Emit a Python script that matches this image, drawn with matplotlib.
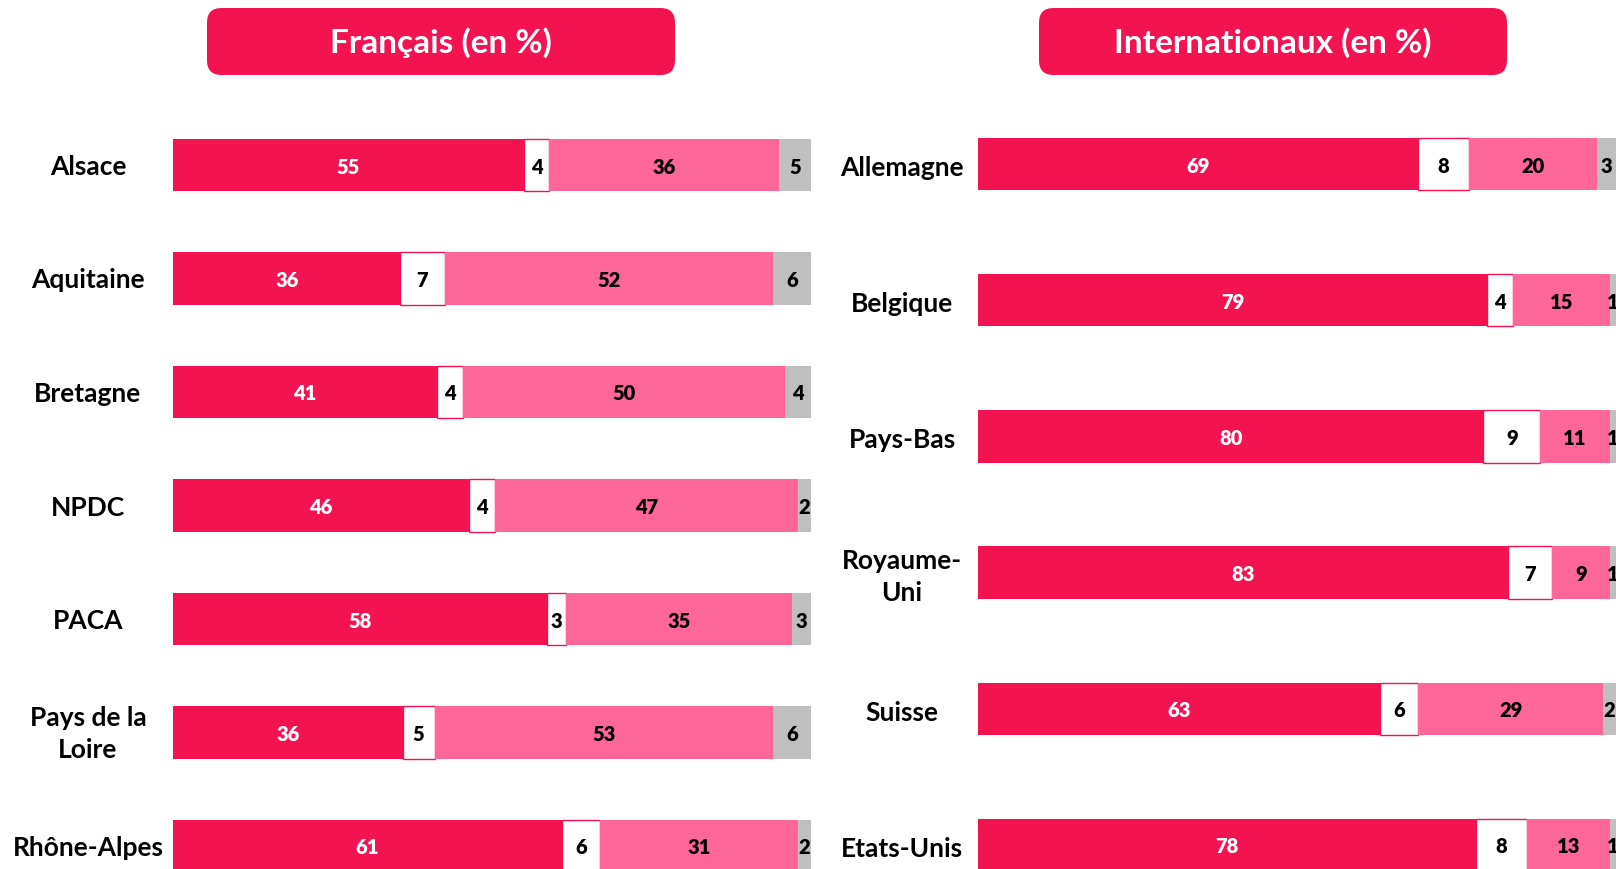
import matplotlib
matplotlib.use("Agg")
import matplotlib.pyplot as plt
from matplotlib.patches import FancyBboxPatch
from matplotlib.transforms import blended_transform_factory
import numpy as np

plt.rcParams['font.family'] = ['Lato', 'DejaVu Sans']

# ---- data ----
fr_regions = ["Alsace", "Aquitaine", "Bretagne", "NPDC", "PACA", "Pays de la\nLoire", "Rhône-Alpes"]
fr_s1 = [55, 36, 41, 46, 58, 36, 61]
fr_s2 = [4, 7, 4, 4, 3, 5, 6]
fr_s3 = [36, 52, 50, 47, 35, 53, 31]
fr_s4 = [5, 6, 4, 2, 3, 6, 2]

int_countries = ["Allemagne", "Belgique", "Pays-Bas", "Royaume-\nUni", "Suisse", "Etats-Unis"]
int_s1 = [69, 79, 80, 83, 63, 78]
int_s2 = [8, 4, 9, 7, 6, 8]
int_s3 = [20, 15, 11, 9, 29, 13]
int_s4 = [3, 1, 1, 1, 2, 1]

titles = ["Français (en %)", "Internationaux (en %)"]

CRIMSON = "#F41351"
PINK = "#FF6699"
GRAY = "#BFBFBF"
WHITE = "#FFFFFF"

W, H = 1616, 869
fig = plt.figure(figsize=(W / 100, H / 100), dpi=100)
fig.patch.set_facecolor("white")


def px_axes(x0, x1):
    return fig.add_axes([x0 / W, 0, (x1 - x0) / W, 1])


def draw_panel(ax, labels, series, first_c, last_c, bar_h, label_x, label_dy):
    n = len(labels)
    data = np.array(series, dtype=float)
    totals = data.sum(axis=0)
    shares = data / totals * 100
    colors = [CRIMSON, WHITE, PINK, GRAY]
    txtcol = ["white", "black", "black", "black"]
    y = np.arange(n)
    sp = (last_c - first_c) / (n - 1)
    left = np.zeros(n)
    for k in range(4):
        ax.barh(y, shares[k], left=left, height=bar_h, color=colors[k],
                edgecolor=CRIMSON if k == 1 else "none", linewidth=1.0 if k == 1 else 0)
        for i in range(n):
            ax.text(left[i] + shares[k][i] / 2, y[i] + 2 / sp, f"{int(data[k][i])}",
                    ha="center", va="center", fontsize=14.5, fontweight="heavy",
                    color=txtcol[k])
        left = left + shares[k]
    ax.set_ylim((H - first_c) / sp, -first_c / sp)
    ax.set_xlim(0, 100)
    ax.axis("off")
    tr = blended_transform_factory(fig.transFigure, ax.transData)
    for i, lab in enumerate(labels):
        ax.text(label_x / W, y[i] + label_dy / sp, lab, transform=tr, ha="center", va="center",
                fontsize=19, fontweight="bold", color="black", linespacing=1.4)


axL = px_axes(173, 811)
draw_panel(axL, fr_regions, [fr_s1, fr_s2, fr_s3, fr_s4], 165, 846, 52.5 / 113.5, 88, 2)

axR = px_axes(978, 1616)
draw_panel(axR, int_countries, [int_s1, int_s2, int_s3, int_s4], 164, 845, 52.5 / 136.2, 902, 4)

# title boxes
for (x0, x1), t in zip([(207, 675), (1039, 1507)], titles):
    y0, y1 = H - 75, H - 8
    box = FancyBboxPatch((x0 / W, y0 / H), (x1 - x0) / W, (y1 - y0) / H,
                         boxstyle="round,pad=0,rounding_size=0.009",
                         transform=fig.transFigure, facecolor=CRIMSON,
                         edgecolor="none", mutation_aspect=W / H)
    fig.patches.append(box)
    fig.text((x0 + x1) / 2 / W, (y0 + y1 - 3) / 2 / H, t, ha="center", va="center",
             fontsize=24, fontweight="bold", color="white")

fig.savefig("out.png", dpi=100)
